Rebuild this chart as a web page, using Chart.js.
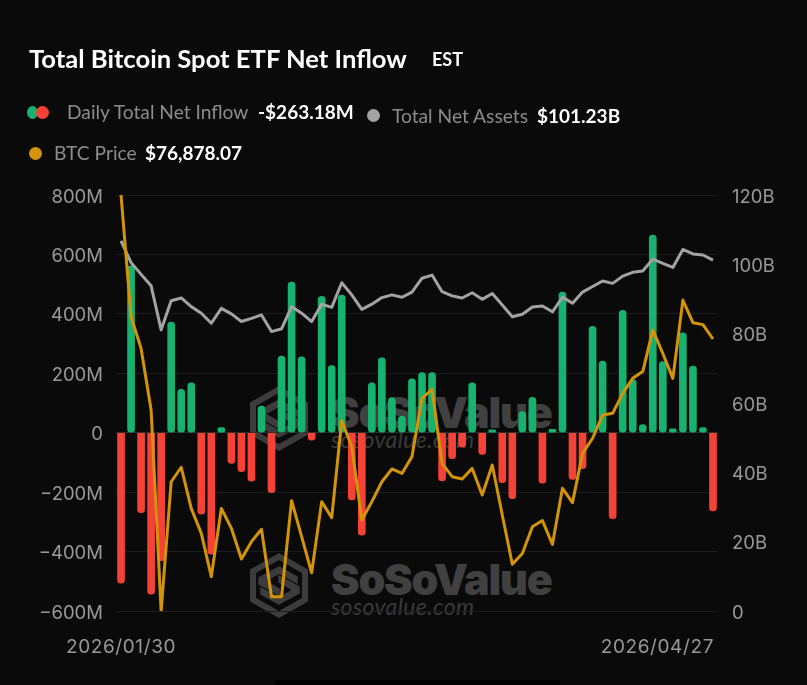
<!DOCTYPE html>
<html>
<head>
<meta charset="utf-8">
<title>Total Bitcoin Spot ETF Net Inflow</title>
<script src="https://cdn.jsdelivr.net/npm/chart.js@4/dist/chart.umd.min.js"></script>
<style>
  html, body { margin: 0; padding: 0; background: #0a0a0a; }
  #page { position: relative; width: 807px; height: 685px; overflow: hidden; background: #0a0a0a; font-family: Lato, sans-serif; }
  #page canvas { position: absolute; left: 0; top: 0; }
  .t { position: absolute; white-space: nowrap; line-height: 1; }
  .lab { color: #8c8c8c; font-size: 19.2px; }
  .val { color: #fff; font-size: 19px; font-weight: 700; }
  .dot { position: absolute; width: 13px; height: 13px; border-radius: 50%; }
  .wm { position: absolute; color: #404040; white-space: nowrap; line-height: 1; }
  .wm.name { font: 900 43px Inter, sans-serif; letter-spacing: -1.25px; }
  .wm.url { font: italic 400 23px Lato, sans-serif; letter-spacing: .4px; color: #3a3a3a; }
  .logo { position: absolute; left: 250px; width: 58px; height: 65px; }
</style>
</head>
<body>
<div id="page">
  <svg width="0" height="0" style="position:absolute">
    <symbol id="ssv" viewBox="0 0 58 65">
      <path fill="#3c3c3c" fill-rule="evenodd" d="M29 0 58 16.5V48.5L29 65 0 48.5V16.5ZM29 7 6 20V45L29 58 52 45V20Z"/>
      <path fill="#3c3c3c" stroke="#3c3c3c" stroke-width="1.5" d="M29 14 47 24V30L29 20 15 28 29 36V42L9 31V25ZM29 51 11 41V35L29 45 43 37 29 29V23L49 34V40Z"/>
    </symbol>
  </svg>
  <svg class="logo" style="top:386px"><use href="#ssv"/></svg>
  <svg class="logo" style="top:553px"><use href="#ssv"/></svg>
  <div class="wm name" style="left:331px;top:386px">SoSoValue</div>
  <div class="wm url" style="left:331px;top:425px">sosovalue.com</div>
  <div class="wm name" style="left:331px;top:553px">SoSoValue</div>
  <div class="wm url" style="left:331px;top:592px">sosovalue.com</div>

  <canvas id="etfChart" width="807" height="685"></canvas>

  <div class="t" style="left:29px;top:46px;color:#fff;font-size:25.6px;font-weight:700">Total Bitcoin Spot ETF Net Inflow</div>
  <div class="t" style="left:432px;top:50px;color:#fff;font-size:18px;font-weight:700">EST</div>

  <div class="dot" style="left:27px;top:106px;background:#17b26f;width:11px;height:13px"></div>
  <div class="dot" style="left:36px;top:106px;background:#f44336"></div>
  <div class="t lab" style="left:67px;top:102px">Daily Total Net Inflow</div>
  <div class="t val" style="left:258px;top:102px">-$263.18M</div>
  <div class="dot" style="left:367px;top:109px;background:#a3a3a3"></div>
  <div class="t lab" style="left:392px;top:106px">Total Net Assets</div>
  <div class="t val" style="left:537px;top:106px">$101.23B</div>
  <div class="dot" style="left:29px;top:147px;background:#d4940a"></div>
  <div class="t lab" style="left:54px;top:143px">BTC Price</div>
  <div class="t val" style="left:145px;top:143px">$76,878.07</div>

  <div style="position:absolute;left:275px;top:680px;width:285px;height:5px;background:#000"></div>
</div>

<script>
// Trading days between the two dates on the x axis
const dates = [
  '2026/01/30',
  '2026/02/02','2026/02/03','2026/02/04','2026/02/05','2026/02/06',
  '2026/02/09','2026/02/10','2026/02/11','2026/02/12','2026/02/13',
  '2026/02/17','2026/02/18','2026/02/19','2026/02/20',
  '2026/02/23','2026/02/24','2026/02/25','2026/02/26','2026/02/27',
  '2026/03/02','2026/03/03','2026/03/04','2026/03/05','2026/03/06',
  '2026/03/09','2026/03/10','2026/03/11','2026/03/12','2026/03/13',
  '2026/03/16','2026/03/17','2026/03/18','2026/03/19','2026/03/20',
  '2026/03/23','2026/03/24','2026/03/25','2026/03/26','2026/03/27',
  '2026/03/30','2026/03/31','2026/04/01','2026/04/02',
  '2026/04/06','2026/04/07','2026/04/08','2026/04/09','2026/04/10',
  '2026/04/13','2026/04/14','2026/04/15','2026/04/16','2026/04/17',
  '2026/04/20','2026/04/21','2026/04/22','2026/04/23','2026/04/24',
  '2026/04/27',
];

// Daily net inflow, $M
const netInflow = [
  -506, 562, -269, -543, -431, 372, 146, 168, -274, -409,
  17, -103, -131, -163, 90, -202, 258, 507, 255, -25,
  459, 226, 463, -226, -345, 168, 252, 118, 56, 181,
  202, 202, -162, -87, -49, 168, -73, 10, -168, -222,
  71, 119, -170, 11, 473, -157, -121, 358, 241, -289,
  412, 179, 27, 665, 239, 13, 336, 224, 17, -263,
];

// Total net assets, $B
const netAssets = [
  106.8, 100.5, 97.1, 93.8, 81.1, 89.5, 90.3, 87.8, 85.9, 83.0,
  87.3, 85.7, 83.5, 84.4, 85.4, 80.6, 81.4, 87.8, 85.9, 83.5,
  88.5, 87.6, 94.7, 91.2, 87.0, 88.5, 90.4, 91.2, 90.5, 92.0,
  96.0, 96.9, 92.1, 90.9, 90.3, 91.8, 89.9, 91.6, 88.3, 84.9,
  85.6, 87.7, 88.0, 86.3, 90.5, 88.8, 92.0, 93.6, 95.2, 94.5,
  96.6, 97.7, 98.1, 101.5, 100.3, 99.1, 104.3, 103.0, 102.7, 101.23,
];

// BTC price, $ (its axis is hidden in the picture)
const btcPrice = [
  84330, 78030, 76390, 73200, 62800, 69490, 70240, 68110, 66820, 64580,
  68110, 67080, 65490, 66390, 67030, 63540, 63540, 68510, 66650, 64780,
  68460, 67630, 72650, 71300, 67510, 68460, 69490, 70150, 69920, 70790,
  73810, 74270, 70440, 69750, 69630, 70180, 68800, 70360, 67770, 65220,
  65780, 67160, 67480, 66250, 69150, 68410, 70960, 71740, 72940, 73030,
  74060, 74840, 75190, 77340, 76130, 74840, 78890, 77720, 77620, 76878,
];

const inflowTicks = [800, 600, 400, 200, 0, -200, -400, -600];
const assetTicks = [120, 100, 80, 60, 40, 20, 0];

const GREEN = '#17b26f';
const RED = '#f44336';
const GOLD = '#d4940a';
const GREY = '#a3a3a3';
const TICK_FONT = { family: 'Inter, sans-serif', size: 18.5 };
const TICK_COLOR = '#999999';

function fmtInflow(v) {
  return v === 0 ? '0' : (v < 0 ? '\u2212' + (-v) : v) + 'M';
}

// Inter sits a little high on a middle baseline, so push the tick labels down
function lowerTickLabels(scale) {
  const compute = scale._computeLabelItems.bind(scale);
  scale._computeLabelItems = area => compute(area).map(item => {
    item.options.translation[1] += 2;
    return item;
  });
}

// Only the first and last date are shown; the last one sits right-aligned under the plot
const dateLabels = {
  id: 'dateLabels',
  afterDraw(chart) {
    const { ctx, scales } = chart;
    const last = dates.length - 1;
    const y = 647;
    ctx.save();
    ctx.font = '19px Inter, sans-serif';
    ctx.letterSpacing = '0.6px';
    ctx.fillStyle = TICK_COLOR;
    ctx.textBaseline = 'middle';
    ctx.textAlign = 'center';
    ctx.fillText(dates[0], scales.x.getPixelForValue(0), y);
    ctx.textAlign = 'right';
    ctx.fillText(dates[last], scales.x.getPixelForValue(last) + 1, y);
    ctx.restore();
  },
};

new Chart(document.getElementById('etfChart').getContext('2d'), {
  type: 'bar',
  plugins: [dateLabels],
  data: {
    labels: dates,
    datasets: [
      {
        label: 'BTC Price',
        type: 'line',
        data: btcPrice,
        yAxisID: 'yPrice',
        borderColor: GOLD,
        borderWidth: 3,
        pointRadius: 0,
        tension: 0,
        borderJoinStyle: 'round',
        order: 1,
      },
      {
        label: 'Total Net Assets',
        type: 'line',
        data: netAssets,
        yAxisID: 'yAssets',
        borderColor: GREY,
        borderWidth: 3,
        pointRadius: 0,
        tension: 0,
        borderJoinStyle: 'round',
        order: 2,
      },
      {
        label: 'Daily Total Net Inflow',
        data: netInflow,
        yAxisID: 'yInflow',
        backgroundColor: c => (c.raw >= 0 ? GREEN : RED),
        barThickness: 7,
        borderSkipped: false,
        // green bars are round at both ends, red ones only at the bottom
        borderRadius: c => (c.raw >= 0
          ? 3.5
          : { topLeft: 0, topRight: 0, bottomLeft: 3.5, bottomRight: 3.5 }),
        order: 3,
      },
    ],
  },
  options: {
    responsive: false,
    animation: false,
    layout: { padding: { top: 195, bottom: 74, left: 0, right: 0 } },
    plugins: { legend: { display: false }, tooltip: { enabled: false } },
    scales: {
      x: { display: false, offset: true, grid: { display: false } },
      yInflow: {
        position: 'left',
        min: -600,
        max: 800,
        afterFit: s => { s.width = 116; },
        afterBuildTicks: s => { s.ticks = inflowTicks.map(value => ({ value })); },
        afterUpdate: lowerTickLabels,
        border: { display: false },
        grid: {
          drawTicks: false,
          color: c => (c.tick && c.tick.value === 0 ? '#2e2e2e' : '#1c1c1c'),
        },
        ticks: { color: TICK_COLOR, font: TICK_FONT, padding: 13, callback: fmtInflow },
      },
      yAssets: {
        position: 'right',
        min: 0,
        max: 120,
        afterFit: s => { s.width = 89; },
        afterBuildTicks: s => { s.ticks = assetTicks.map(value => ({ value })); },
        afterUpdate: lowerTickLabels,
        border: { display: false },
        grid: { display: false, drawTicks: false },
        ticks: { color: TICK_COLOR, font: TICK_FONT, padding: 14, callback: v => (v === 0 ? '0' : v + 'B') },
      },
      yPrice: { display: false, min: 62800, max: 84330 },
    },
  },
});
</script>
</body>
</html>
